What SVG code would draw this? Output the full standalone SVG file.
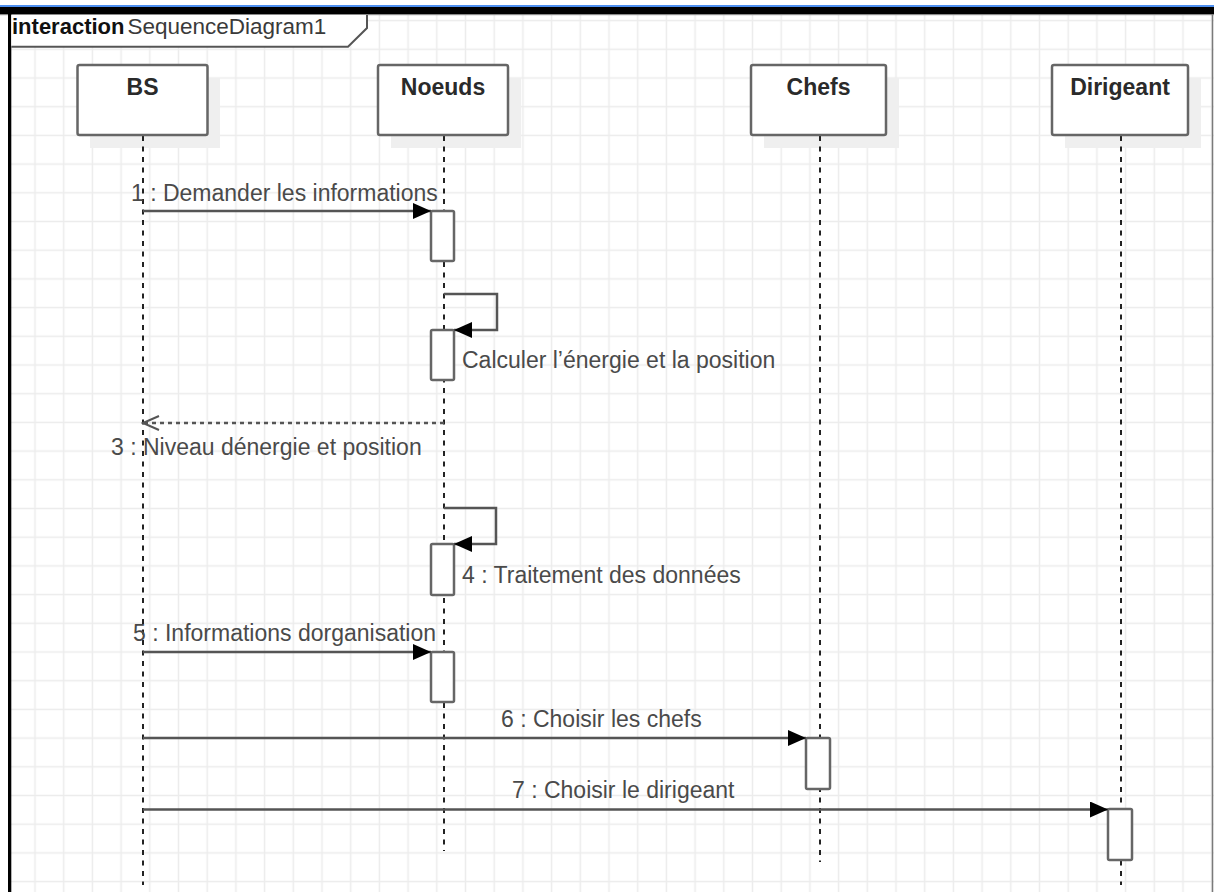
<svg xmlns="http://www.w3.org/2000/svg" width="1214" height="892" viewBox="0 0 1214 892">
  <style>
    .title { font-family: "Liberation Sans", Arial, sans-serif; font-size: 23px; font-weight: bold; fill: #2a2a2a; text-anchor: middle; }
    .label { font-family: "Liberation Sans", Arial, sans-serif; font-size: 23px; fill: #4a4a4a; }
    .box { fill: #ffffff; stroke: #666666; stroke-width: 2.5; }
    .shadow { fill: #efefef; }
    .lifeline { stroke: #222222; stroke-width: 2; stroke-dasharray: 5 5.5; fill: none; }
    .act { fill: #ffffff; stroke: #666666; stroke-width: 2.5; }
    .msg { stroke: #555555; stroke-width: 2.5; fill: none; }
    .reply { stroke: #555555; stroke-width: 2.5; fill: none; stroke-dasharray: 4 4; }
  </style>
  <defs>
    <pattern id="grid" patternUnits="userSpaceOnUse" x="-8.05" y="6.25" width="28.7" height="28.7">
      <path d="M14.35,0 V28.7 M0,14.35 H28.7" stroke="#ececec" stroke-width="1.5" fill="none"/>
    </pattern>
    <marker id="filled" markerUnits="userSpaceOnUse" viewBox="0 0 18 16" refX="18" refY="8" markerWidth="18" markerHeight="16" orient="auto">
      <path d="M0,0 L18,8 L0,16 Z" fill="#000000"/>
    </marker>
    <marker id="open" markerUnits="userSpaceOnUse" viewBox="-18 -9 20 18" refX="0" refY="0" markerWidth="20" markerHeight="18" orient="auto">
      <path d="M-16,-7 L0,0 L-16,7" fill="none" stroke="#555555" stroke-width="2"/>
    </marker>
  </defs>

  <!-- canvas and grid -->
  <rect x="0" y="0" width="1214" height="892" fill="#ffffff"/>
  <rect x="11" y="14" width="1203" height="878" fill="url(#grid)"/>

  <!-- window edges -->
  <rect x="0" y="5" width="1214" height="2.2" fill="#4d8ff0"/>
  <rect x="0" y="7" width="1214" height="7" fill="#000000"/>
  <rect x="0" y="14" width="1214" height="1.2" fill="#8a8a8a"/>
  <rect x="8" y="7" width="3.3" height="885" fill="#000000"/>
  <line x1="1212.5" y1="14" x2="1212.5" y2="892" stroke="#7a7a7a" stroke-width="1.5"/>

  <!-- frame tab -->
  <g id="frame">
    <path d="M11.3,15 H367 V28 L348,46.7 H11.3 Z" fill="#ffffff"/>
    <path d="M367,15 V28 L348,46.7 H11.3" fill="none" stroke="#555555" stroke-width="2"/>
    <text x="12" y="34" font-family="'Liberation Sans', Arial, sans-serif" font-size="22"><tspan font-weight="bold" fill="#111111">interaction</tspan><tspan fill="#3a3a3a" dx="3" font-size="22.5">SequenceDiagram1</tspan></text>
  </g>

  <!-- lifelines -->
  <g id="node-bs">
    <rect class="shadow" x="90" y="78" width="130" height="70"/>
    <line class="lifeline" x1="143" y1="136" x2="143" y2="885"/>
    <rect class="box" x="77.5" y="65" width="130" height="70" rx="2"/>
    <text class="title" x="142.5" y="95">BS</text>
  </g>
  <g id="node-noeuds">
    <rect class="shadow" x="391" y="78" width="130" height="70"/>
    <line class="lifeline" x1="444" y1="136" x2="444" y2="851"/>
    <rect class="box" x="378" y="65" width="130" height="70" rx="2"/>
    <text class="title" x="443" y="95">Noeuds</text>
  </g>
  <g id="node-chefs">
    <rect class="shadow" x="764" y="78" width="135" height="70"/>
    <line class="lifeline" x1="820" y1="136" x2="820" y2="862"/>
    <rect class="box" x="751" y="65" width="135" height="70" rx="2"/>
    <text class="title" x="818.5" y="95">Chefs</text>
  </g>
  <g id="node-dirigeant">
    <rect class="shadow" x="1065" y="78" width="136" height="70"/>
    <line class="lifeline" x1="1121" y1="136" x2="1121" y2="885"/>
    <rect class="box" x="1052" y="65" width="136" height="70" rx="2"/>
    <text class="title" x="1120" y="95">Dirigeant</text>
  </g>

  <!-- execution specifications -->
  <g id="activations">
    <rect class="act" x="431" y="211" width="23" height="50" rx="1.5"/>
    <rect class="act" x="431" y="330" width="23" height="50" rx="1.5"/>
    <rect class="act" x="431" y="544" width="23" height="51" rx="1.5"/>
    <rect class="act" x="431" y="652" width="23" height="50" rx="1.5"/>
    <rect class="act" x="806" y="738" width="24" height="51" rx="1.5"/>
    <rect class="act" x="1108" y="809" width="24" height="51" rx="1.5"/>
  </g>

  <!-- messages -->
  <g id="connectors">
    <line class="msg" x1="143" y1="211" x2="431" y2="211" marker-end="url(#filled)"/>
    <path class="msg" d="M444,294 H497 V330 H454" marker-end="url(#filled)"/>
    <line class="reply" x1="444" y1="423" x2="143" y2="423" marker-end="url(#open)"/>
    <path class="msg" d="M444,508 H496 V544 H454" marker-end="url(#filled)"/>
    <line class="msg" x1="143" y1="652" x2="431" y2="652" marker-end="url(#filled)"/>
    <line class="msg" x1="143" y1="738" x2="806" y2="738" marker-end="url(#filled)"/>
    <line class="msg" x1="143" y1="809.5" x2="1108" y2="809.5" marker-end="url(#filled)"/>
  </g>

  <!-- message labels -->
  <g id="labels">
    <text class="label" x="131" y="201">1 : Demander les informations</text>
    <text class="label" x="462" y="368">Calculer l’énergie et la position</text>
    <text class="label" x="111" y="455">3 : Niveau dénergie et position</text>
    <text class="label" x="462" y="583">4 : Traitement des données</text>
    <text class="label" x="133" y="641">5 : Informations dorganisation</text>
    <text class="label" x="501" y="727">6 : Choisir les chefs</text>
    <text class="label" x="512" y="798">7 : Choisir le dirigeant</text>
  </g>
</svg>
